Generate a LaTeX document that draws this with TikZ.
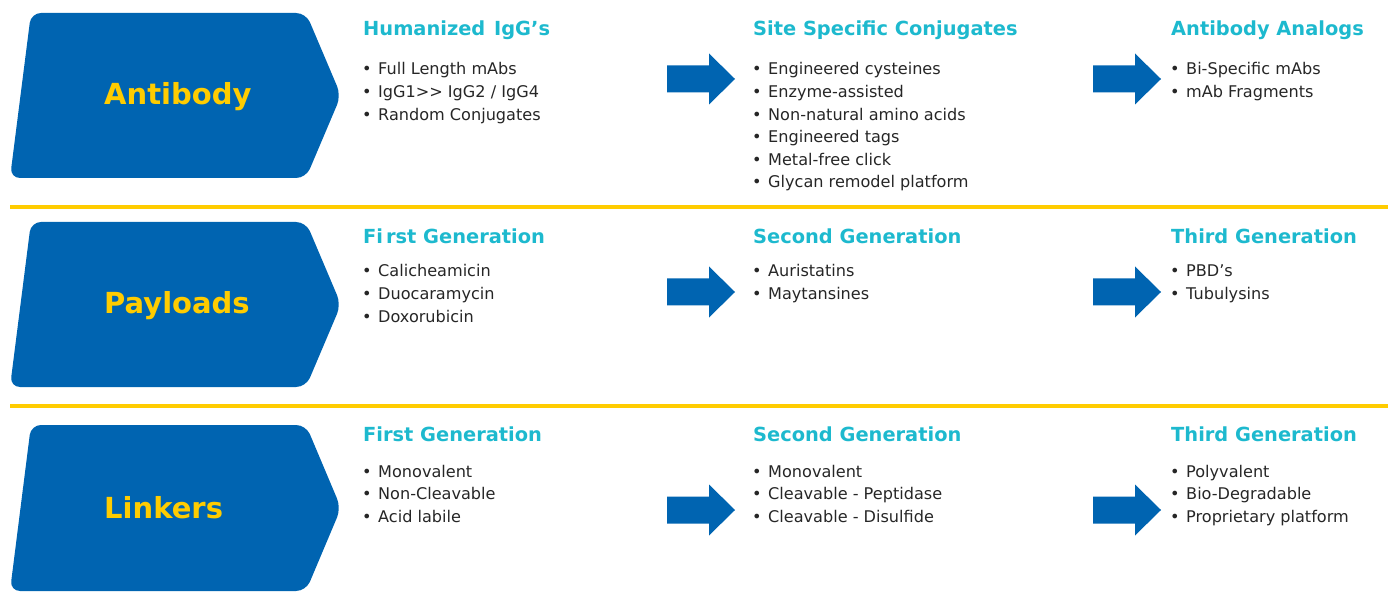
\documentclass[tikz,border=0pt]{standalone}
\usepackage{fontspec}
\setmainfont{DejaVu Sans}
\definecolor{chevblue}{RGB}{0,100,177}
\definecolor{labyellow}{RGB}{255,204,0}
\definecolor{headcyan}{RGB}{29,185,206}
\definecolor{bodygray}{RGB}{38,38,38}
\tikzset{
  chevlabel/.style={anchor=base west, inner sep=0pt, text=labyellow, font=\fontsize{29}{34}\selectfont\bfseries},
  heading/.style={anchor=base west, inner sep=0pt, text=headcyan, font=\fontsize{19.4}{23}\selectfont\bfseries},
  body/.style={anchor=base west, inner sep=0pt, text=bodygray, font=\fontsize{16.1}{19}\selectfont},
  sepline/.style={draw=labyellow, line width=4pt},
}
\newcommand{\chevshape}[2]{% top, bottom
  \fill[chevblue, rounded corners=10pt] (31,#1) -- (306,#1) -- (341,{(#1+#2)/2}) -- (306,#2) -- (10,#2) -- cycle;}
\newcommand{\fatarrow}[2]{% left x, center y
  \fill[chevblue] (#1,{#2-13.5}) -- ({#1+42},{#2-13.5}) -- ({#1+42},{#2-25.5}) -- ({#1+68},#2) -- ({#1+42},{#2+25.5}) -- ({#1+42},{#2+13.5}) -- (#1,{#2+13.5}) -- cycle;}
\newcommand{\blist}[4]{% name, x, first baseline, items
  \foreach \t [count=\i] in {#4} {\node[body] (#1\i) at (#2,{#3+22.6*(\i-1)}) {•\kern6.5pt\t};}}
\begin{document}
\begin{tikzpicture}[x=1pt,y=-1pt]
\useasboundingbox (0,0) rectangle (1388,593);
% separators
\coordinate (s1a) at (10,207); \coordinate (s1b) at (1388,207);
\coordinate (s2a) at (10,406); \coordinate (s2b) at (1388,406);
\draw[sepline] (s1a) -- (s1b);
\draw[sepline] (s2a) -- (s2b);
% chevrons
\chevshape{13}{178}
\chevshape{222}{387}
\chevshape{425}{591}
\node[chevlabel] (lab1) at (104,105) {Antibody};
\node[chevlabel] (lab2) at (104,313) {Payloads};
\node[chevlabel] (lab3) at (104,518) {Linkers};
% arrows
\fatarrow{667}{79}
\fatarrow{1093}{79}
\fatarrow{667}{292}
\fatarrow{1093}{292}
\fatarrow{667}{510}
\fatarrow{1093}{510}
% row 1
\node[heading] (h11) at (363,36) {Humanized\kern2pt{} IgG’s};
\node[heading] (h12) at (753,36) {Site Specific Conjugates};
\node[heading] (h13) at (1171,36) {Antibody Analogs};
\blist{a}{362}{75}{Full Length mAbs, IgG1>{}> IgG2 / IgG4, Random Conjugates}
\blist{b}{752}{75}{Engineered cysteines, Enzyme-assisted, Non-natural amino acids, Engineered tags, Metal-free click, Glycan remodel platform}
\blist{c}{1170}{75}{Bi-Specific mAbs, mAb Fragments}
% row 2
\node[heading] (h21) at (363,243.5) {Fi\kern3pt rst Generation};
\node[heading] (h22) at (753,243.5) {Second Generation};
\node[heading] (h23) at (1171,243.5) {Third Generation};
\blist{d}{362}{277}{Calicheamicin, Duocaramycin, Doxorubicin}
\blist{e}{752}{277}{Auristatins, Maytansines}
\blist{f}{1170}{277}{PBD’s, Tubulysins}
% row 3
\node[heading] (h31) at (363,441) {First Generation};
\node[heading] (h32) at (753,441) {Second Generation};
\node[heading] (h33) at (1171,441) {Third Generation};
\blist{g}{362}{477}{Monovalent, Non-Cleavable, Acid labile}
\blist{h}{752}{477}{Monovalent, Cleavable - Peptidase, Cleavable - Disulfide}
\blist{k}{1170}{477}{Polyvalent, Bio-Degradable, Proprietary platform}
\end{tikzpicture}
\end{document}
